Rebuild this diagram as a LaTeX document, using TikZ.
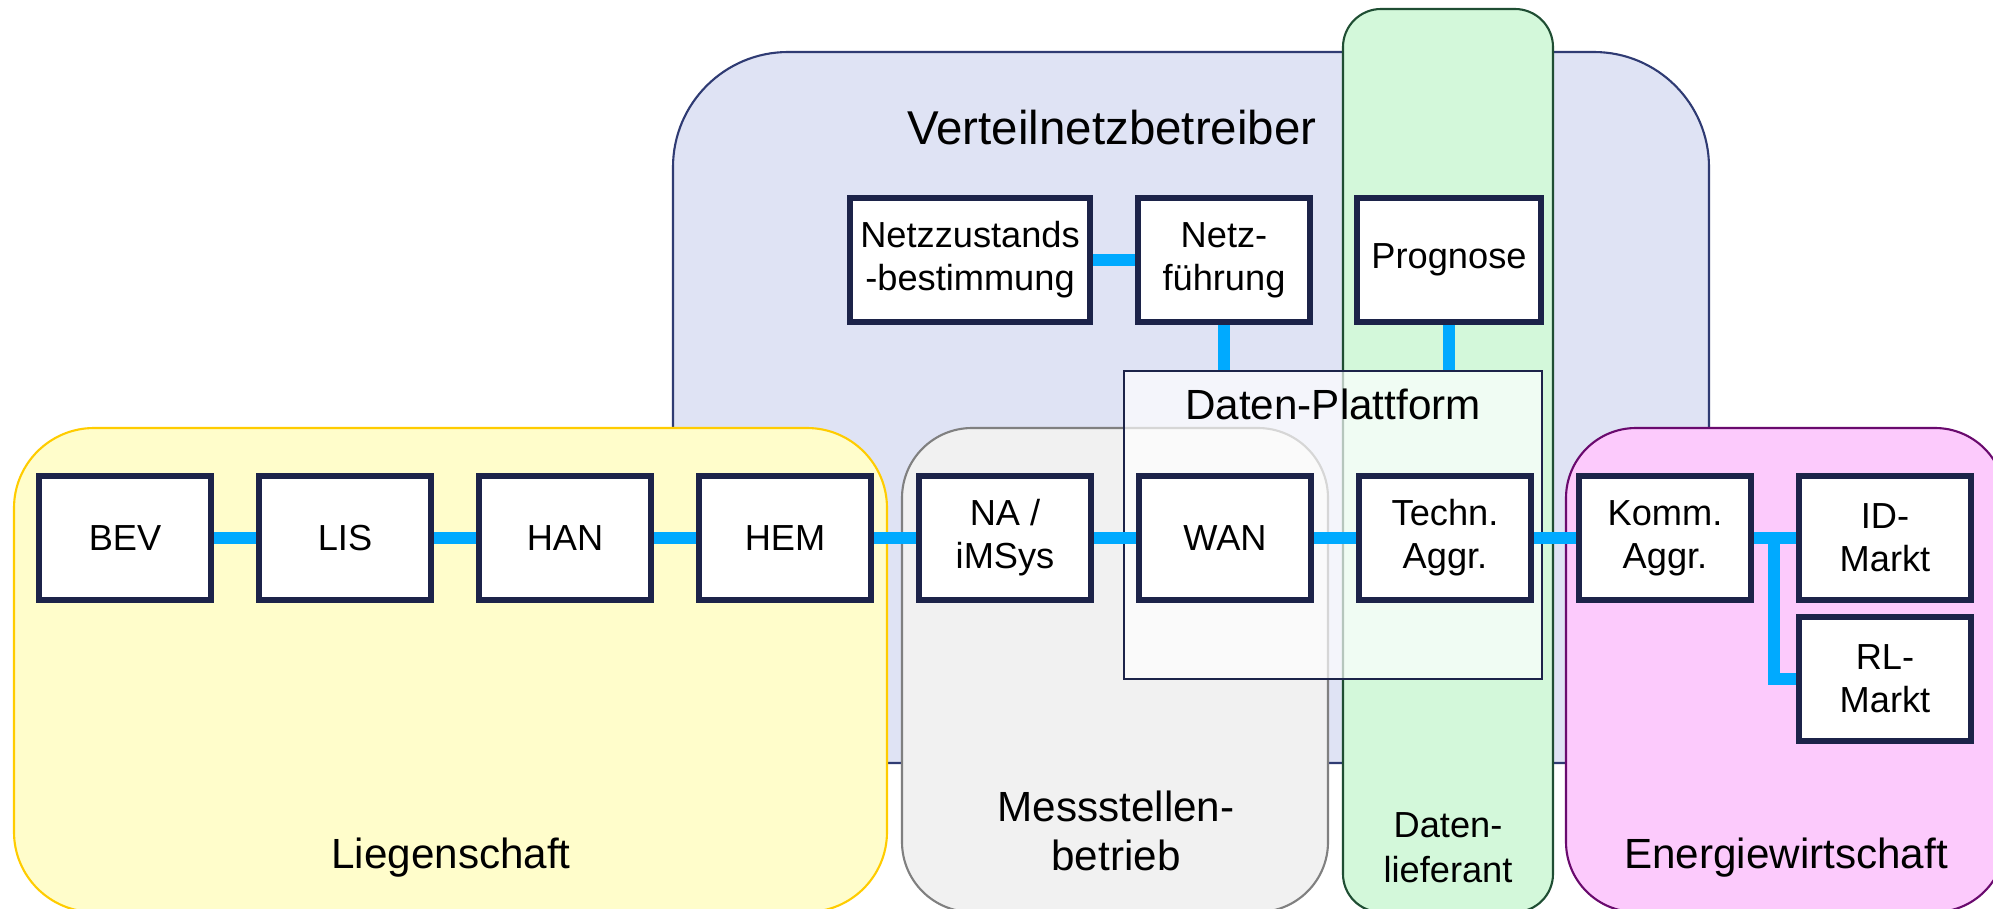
\documentclass[tikz,border=0pt]{standalone}
\usepackage{fontspec}
\setmainfont{Liberation Sans}

\definecolor{boxnavy}{HTML}{1C2349}
\definecolor{leitungblau}{HTML}{00AAFF}
\definecolor{vnbfill}{HTML}{DFE3F4}
\definecolor{vnbline}{HTML}{2F3B73}
\definecolor{dlfill}{HTML}{D3F8DA}
\definecolor{dlline}{HTML}{1F4E33}
\definecolor{lgfill}{HTML}{FFFDCB}
\definecolor{lgline}{HTML}{FFCC00}
\definecolor{msfill}{HTML}{F1F1F1}
\definecolor{msline}{HTML}{808080}
\definecolor{ewfill}{HTML}{FCCAFC}
\definecolor{ewline}{HTML}{6A0A6E}

\def\modulsep{220}

\begin{document}
\begin{tikzpicture}[x=0.01cm, y=-0.01cm]
    \tikzstyle{modul} = [rectangle, draw=boxnavy, line width=1.7pt, fill=white, minimum width=1.72cm, minimum height=1.24cm, inner sep=0pt, align=center, font=\fontsize{10.3}{12.3}\selectfont]
    \tikzstyle{leitung} = [draw=leitungblau, line width=3.2pt]
    \tikzstyle{bereich} = [line width=0.6pt]
    \tikzstyle{bereichname} = [anchor=base, align=center, inner sep=0pt, font=\fontsize{12}{13.9}\selectfont]
    \tikzstyle{plattform} = [rectangle, draw=boxnavy, line width=0.6pt, fill=white, fill opacity=0.68, minimum width=4.18cm, minimum height=3.08cm, inner sep=0pt]

    \useasboundingbox (0,0) rectangle (1993,909);
    \clip (0,0) rectangle (1993,909);

    %%% DRAW THE AREAS
    \draw[bereich, draw=vnbline, fill=vnbfill, rounded corners=1.15cm] (673,52) rectangle (1709,763);
    \draw[bereich, draw=dlline, fill=dlfill, rounded corners=0.38cm] (1343,9) rectangle (1553,912);
    \draw[bereich, draw=lgline, fill=lgfill, rounded corners=0.8cm] (14,428) rectangle (887,912);
    \draw[bereich, draw=msline, fill=msfill, rounded corners=0.7cm] (902,428) rectangle (1328,912);
    \draw[bereich, draw=ewline, fill=ewfill, rounded corners=0.7cm] (1566,428) rectangle (2005,912);

    \node[bereichname, font=\fontsize{13.5}{16}\selectfont] (vnb) at (1112,144) {Verteilnetzbetreiber};
    \node[bereichname] (lg) at (451,868) {Liegenschaft};
    \node[bereichname] (msb) at (1116,870) {Messstellen-\\betrieb};
    \node[bereichname, font=\fontsize{10.3}{12.7}\selectfont] (dl) at (1448,882) {Daten-\\lieferant};
    \node[bereichname] (ew) at (1786,868) {Energiewirtschaft};

    \node[plattform] (dp) at (1333,525) {};
    \node[bereichname] (dptitel) at (1333,419) {Daten-Plattform};

    %%% DRAW THE NODES
    \foreach \name/\txt [count=\i from 0] in {bev/BEV, lis/LIS, han/HAN, hem/HEM, na/{NA /\\iMSys}, wan/WAN, tech/{Techn.\\Aggr.}, komm/{Komm.\\Aggr.}, id/{ID-\\Markt}}
        \node[modul] (\name) at (125+\modulsep*\i,538) {\txt};
    \node[modul] (rl) at (1885,679) {RL-\\Markt};
    \node[modul, minimum width=2.4cm] (nzb) at (970,260) {Netzzustands\\-bestimmung};
    \node[modul] (nf) at (1224,260) {Netz-\\führung};
    \node[modul, minimum width=1.83cm] (prog) at (1449,260) {Prognose};

    %%% DRAW THE PATHS
    \foreach \von/\nach in {bev/lis, lis/han, han/hem, hem/na, na/wan, wan/tech, tech/komm, komm/id}
        \draw[leitung] (\von) -- (\nach);
    \draw[leitung] (nzb) -- (nf);
    \draw[leitung] (nf) -- (nf |- dp.north);
    \draw[leitung] (prog) -- (prog |- dp.north);
    \coordinate (abzweig) at (1774,538);
    \draw[leitung] (abzweig) |- (rl);

\end{tikzpicture}
\end{document}
